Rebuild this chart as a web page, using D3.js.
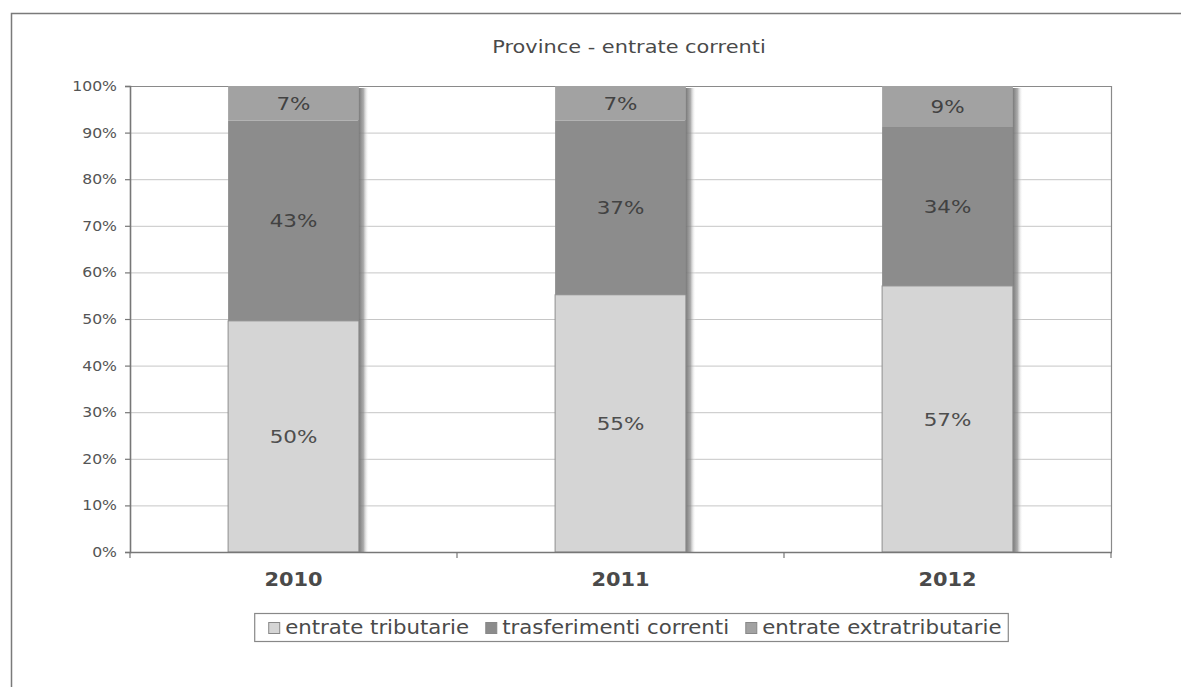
<!DOCTYPE html>
<html>
<head>
<meta charset="utf-8">
<script src="https://cdn.jsdelivr.net/npm/d3@7"></script>
<style>
  html, body { margin: 0; padding: 0; background: #fff; }
  svg { display: block; }
  text { font-family: "DejaVu Sans", Verdana, sans-serif; }
</style>
</head>
<body>
<svg id="chart" width="1181" height="687"></svg>
<script>
// ---- data ----
const years = ["2010", "2011", "2012"];
const seriesNames = ["entrate tributarie", "trasferimenti correnti", "entrate extratributarie"];
const tributarie = [49.6, 55.2, 57.1];
const trasferimenti = [43.0, 37.4, 34.1];
const extratributarie = [7.4, 7.4, 8.8];
const yTicks = [0, 10, 20, 30, 40, 50, 60, 70, 80, 90, 100];
const title = "Province - entrate correnti";

// ---- styles ----
const colors = ["#d5d5d5", "#8c8c8c", "#a2a2a2"];
const plot = { left: 130, right: 1111, top: 86, bottom: 552 };

const svg = d3.select("#chart");

// horizontal stretch helper (scan is wider than the native font)
function stretch(sel, sx) {
  sel.each(function () {
    const t = d3.select(this);
    const x = +(t.attr("x") || 0);
    t.attr("transform", `translate(${x * (1 - sx)},0) scale(${sx},1)`);
  });
}

// defs: shadow gradient
const defs = svg.append("defs");
const g = defs.append("linearGradient").attr("id", "shadow").attr("x1", "0").attr("x2", "1");
g.append("stop").attr("offset", "0").attr("stop-color", "#6e6e6e").attr("stop-opacity", 1);
g.append("stop").attr("offset", "0.5").attr("stop-color", "#8e8e8e").attr("stop-opacity", 0.75);
g.append("stop").attr("offset", "1").attr("stop-color", "#ffffff").attr("stop-opacity", 0);

// outer chart border
svg.append("rect")
  .attr("x", 11.5).attr("y", 13.5)
  .attr("width", 1300).attr("height", 800)
  .attr("fill", "none").attr("stroke", "#7a7a7a").attr("stroke-width", 1.5);

// scales
const x = d3.scaleBand().domain(years).range([plot.left, plot.right])
  .paddingInner(0.6).paddingOuter(0.3);
const y = d3.scaleLinear().domain([0, 100]).range([plot.bottom, plot.top]);

// gridlines
svg.append("g").selectAll("line").data(yTicks.filter(d => d > 0 && d < 100)).join("line")
  .attr("x1", plot.left).attr("x2", plot.right)
  .attr("y1", d => y(d) + 0.5).attr("y2", d => y(d) + 0.5)
  .attr("stroke", "#c6c6c6").attr("stroke-width", 1);

// plot frame top & right
svg.append("path")
  .attr("d", `M${plot.left},${plot.top + 0.5}H${plot.right + 0.5}V${plot.bottom}`)
  .attr("fill", "none").attr("stroke", "#8a8a8a").attr("stroke-width", 1.2);

// stacked data
const rows = years.map((yr, i) => ({ year: yr, trib: tributarie[i], trasf: trasferimenti[i], extra: extratributarie[i] }));
const stack = d3.stack().keys(["trib", "trasf", "extra"])(rows);

// shadows
svg.append("g").selectAll("rect").data(rows).join("rect")
  .attr("x", d => x(d.year) + x.bandwidth() - 1)
  .attr("y", y(100) + 2)
  .attr("width", 11)
  .attr("height", y(0) - y(100) - 2)
  .attr("fill", "url(#shadow)");

// bars
const layers = svg.append("g").selectAll("g").data(stack).join("g")
  .attr("fill", (d, i) => colors[i]);
layers.selectAll("rect").data(d => d.map(v => ({ v, key: d.key }))).join("rect")
  .attr("x", d => x(d.v.data.year))
  .attr("y", d => y(d.v[1]))
  .attr("width", x.bandwidth())
  .attr("height", d => y(d.v[0]) - y(d.v[1]))
  .attr("stroke", d => d.key === "trib" ? "#8e8e8e" : "none")
  .attr("stroke-width", 1);

// segment labels
const labelSel = svg.append("g").selectAll("text")
  .data(stack.flatMap(layer => layer.map(v => ({ v, key: layer.key }))))
  .join("text")
  .attr("x", d => x(d.v.data.year) + x.bandwidth() / 2)
  .attr("y", d => (y(d.v[0]) + y(d.v[1])) / 2)
  .attr("dy", "0.36em")
  .attr("text-anchor", "middle")
  .attr("font-size", 18.5)
  .attr("fill", d => d.key === "trib" ? "#4e4e4e" : "#424242")
  .text(d => Math.round(d.v.data[d.key]) + "%");
stretch(labelSel, 1.16);

// y axis
const yAxis = svg.append("g")
  .attr("transform", `translate(${plot.left},0)`)
  .call(d3.axisLeft(y).tickValues(yTicks).tickFormat(d => d + "%").tickSize(5).tickPadding(8));
yAxis.select(".domain").attr("stroke", "#777").attr("stroke-width", 1.6);
yAxis.selectAll(".tick line").attr("stroke", "#777").attr("stroke-width", 1.2);
yAxis.selectAll(".tick text").attr("font-size", 14).attr("fill", "#555")
  .attr("font-family", "DejaVu Sans");
stretch(yAxis.selectAll(".tick text"), 1.12);

// x axis (ticks between categories)
const xAxisG = svg.append("g").attr("transform", `translate(0,${plot.bottom})`);
xAxisG.append("line").attr("x1", plot.left).attr("x2", plot.right + 1)
  .attr("y1", 0.5).attr("y2", 0.5).attr("stroke", "#777").attr("stroke-width", 1.6);
const bounds = [plot.left].concat(years.map(yr => x(yr) + x.bandwidth() / 2 + x.step() / 2));
xAxisG.selectAll("line.tk").data(bounds).join("line").attr("class", "tk")
  .attr("x1", d => d).attr("x2", d => d).attr("y1", 0).attr("y2", 6)
  .attr("stroke", "#777").attr("stroke-width", 1.2);
const catSel = xAxisG.selectAll("text").data(years).join("text")
  .attr("x", d => x(d) + x.bandwidth() / 2)
  .attr("y", 34)
  .attr("text-anchor", "middle")
  .attr("font-size", 19).attr("font-weight", "bold").attr("fill", "#4a4a4a")
  .text(d => d);
stretch(catSel, 1.1);

// title
const titleSel = svg.append("text")
  .attr("x", 629).attr("y", 53)
  .attr("text-anchor", "middle")
  .attr("font-size", 18).attr("fill", "#4a4a4a")
  .text(title);
stretch(titleSel, 1.16);

// legend
const legSx = 1.12, legFont = 19;
const leg = svg.append("g");
const legCenter = 631, legTop = 613, legH = 28;
const sw = 11, gapSw = 6, gapItem = 16, padL = 14, padR = 6;
const tmp = leg.selectAll("text.m").data(seriesNames).join("text").attr("class", "m")
  .attr("font-size", legFont).text(d => d);
const widths = [];
tmp.each(function () { widths.push(this.getComputedTextLength() * legSx); });
tmp.remove();
const totalW = padL + d3.sum(widths) + seriesNames.length * (sw + gapSw) + (seriesNames.length - 1) * gapItem + padR;
const legLeft = legCenter - totalW / 2;
leg.append("rect")
  .attr("x", legLeft + 0.5).attr("y", legTop + 0.5)
  .attr("width", totalW).attr("height", legH)
  .attr("fill", "#fff").attr("stroke", "#888").attr("stroke-width", 1.2);
let cx = legLeft + padL;
seriesNames.forEach((name, i) => {
  leg.append("rect")
    .attr("x", cx + 0.5).attr("y", legTop + 9.5)
    .attr("width", sw).attr("height", sw)
    .attr("fill", colors[i]).attr("stroke", "#888").attr("stroke-width", 1);
  cx += sw + gapSw;
  const t = leg.append("text")
    .attr("x", cx).attr("y", legTop + 21)
    .attr("font-size", legFont).attr("fill", "#4a4a4a")
    .text(name);
  stretch(t, legSx);
  cx += widths[i] + gapItem;
});
</script>
</body>
</html>
